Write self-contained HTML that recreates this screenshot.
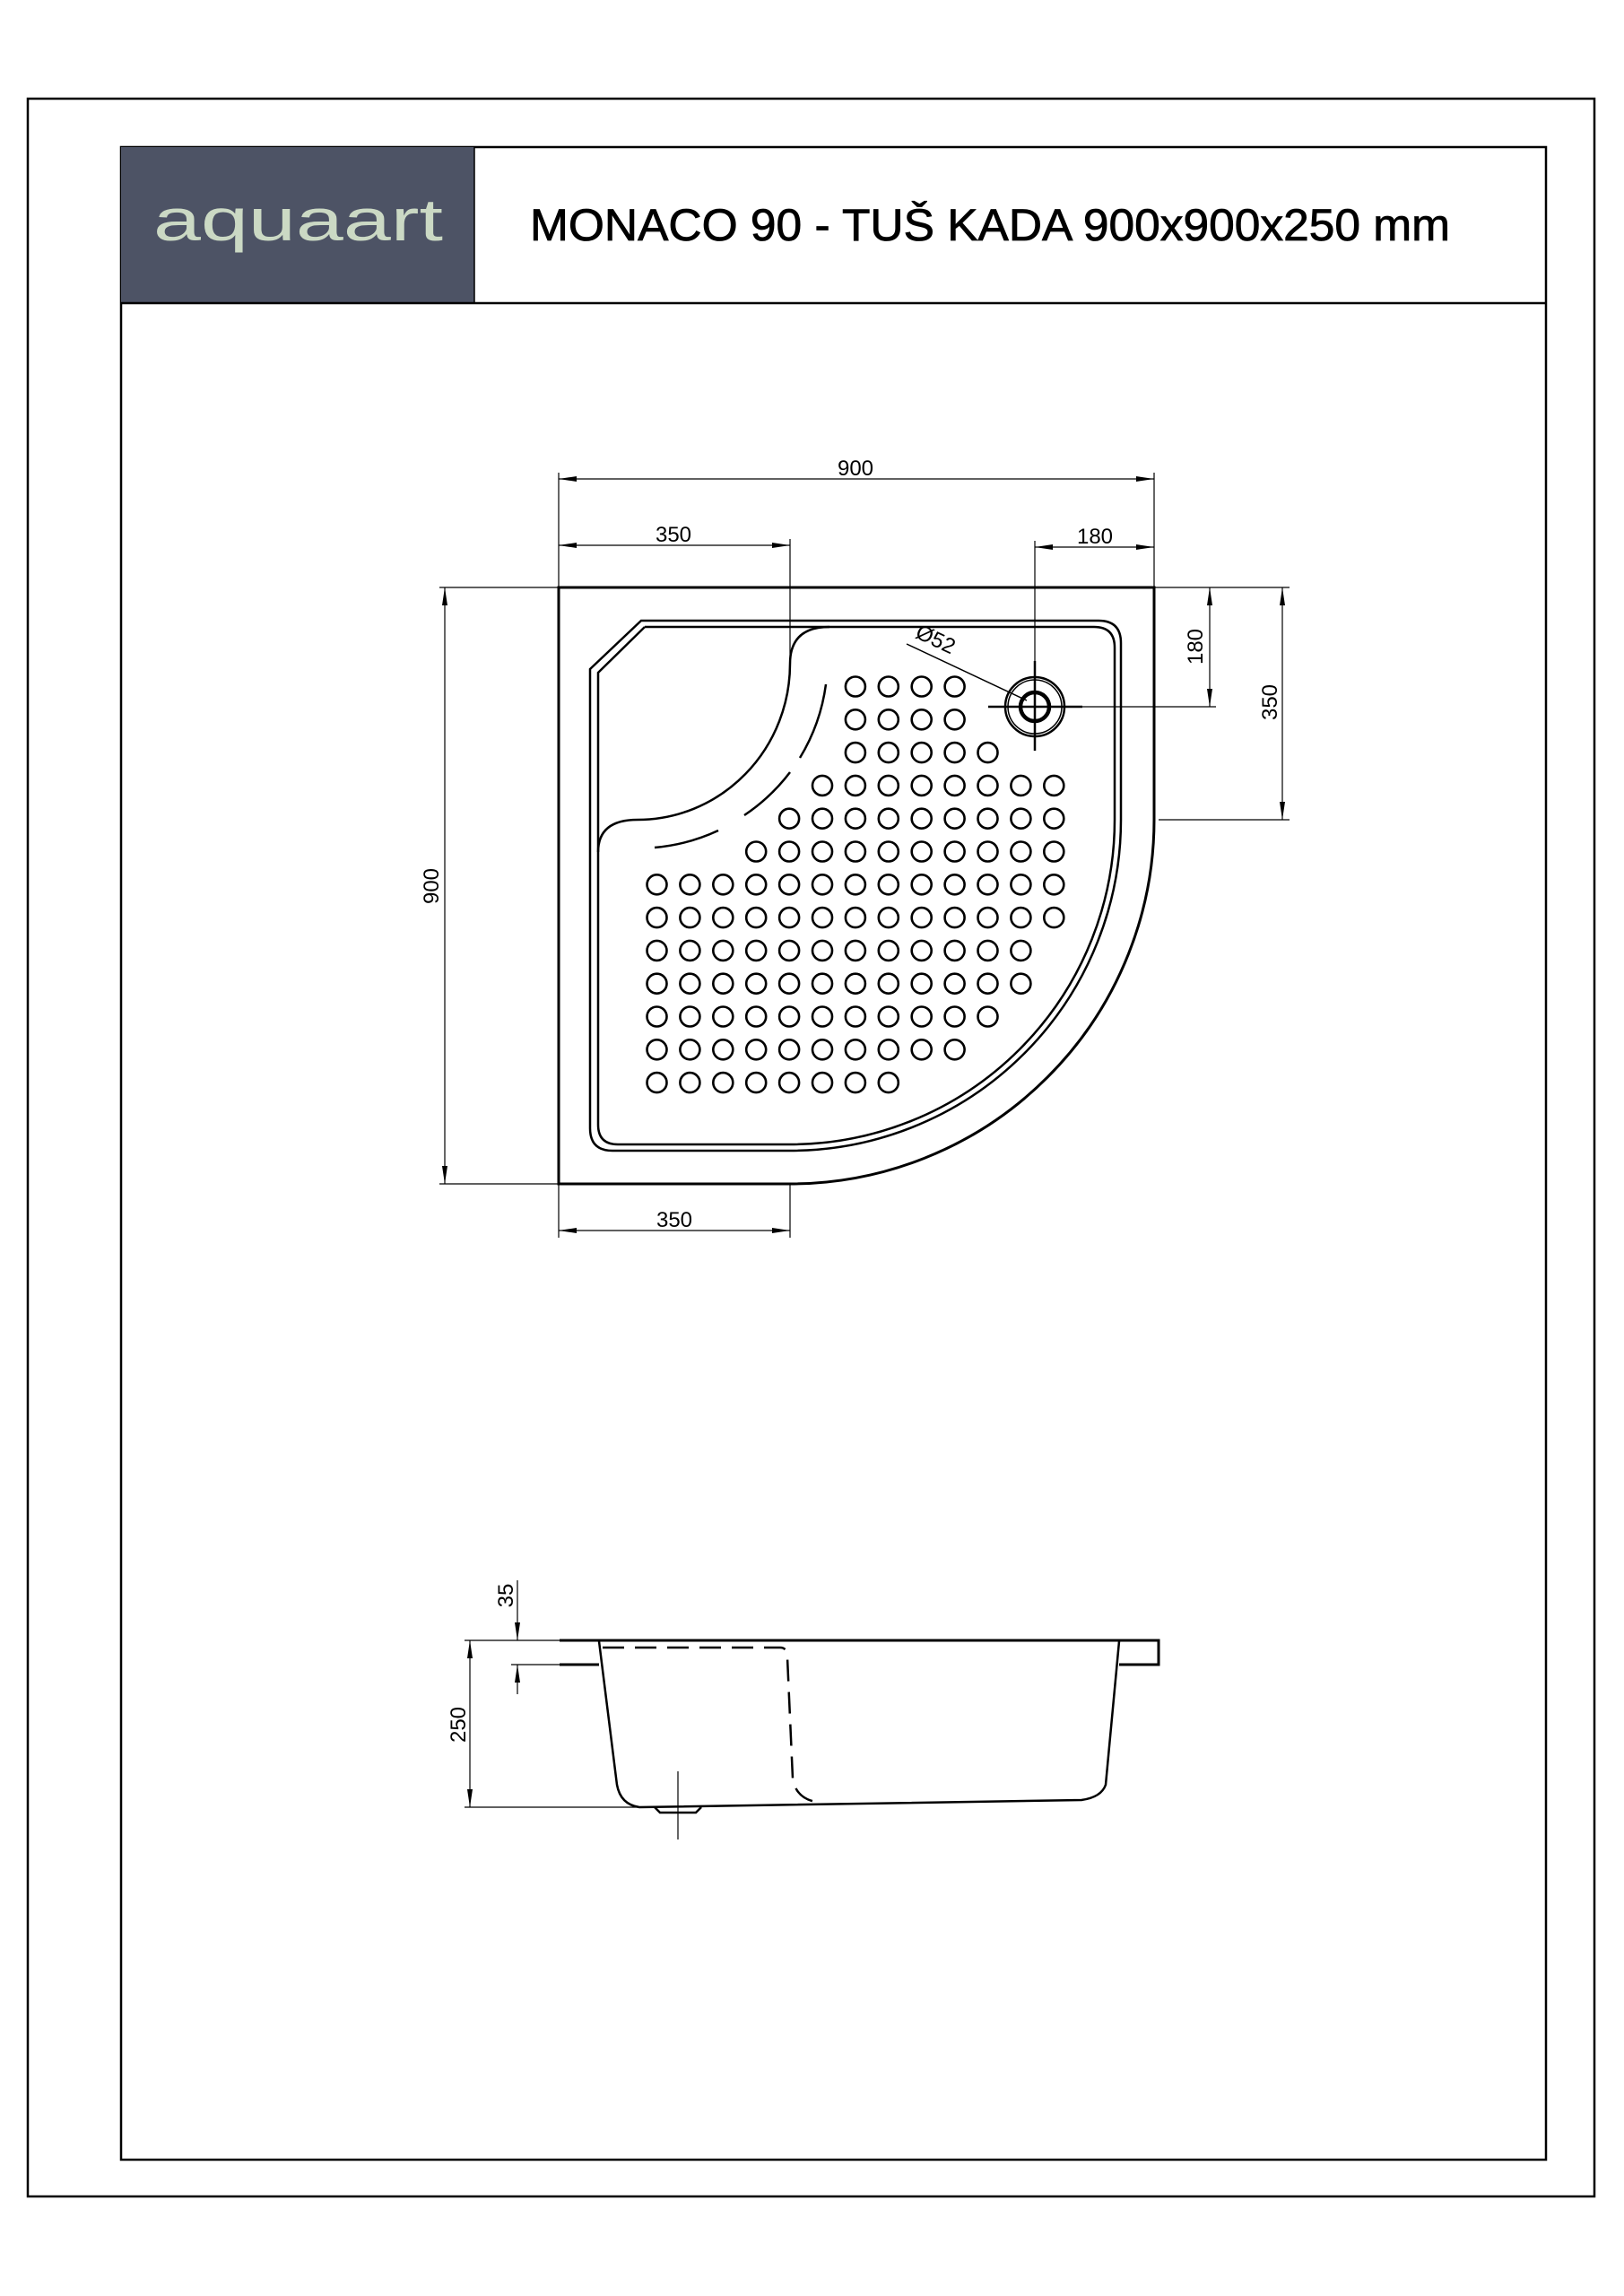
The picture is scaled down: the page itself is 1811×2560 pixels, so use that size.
<!DOCTYPE html>
<html><head><meta charset="utf-8"><style>
html,body{margin:0;padding:0;background:#fff;}
svg{display:block;}
text{font-family:"Liberation Sans",Arial,sans-serif;}
</style></head><body>
<svg width="1811" height="2560" viewBox="0 0 1811 2560" xmlns="http://www.w3.org/2000/svg">
<defs>
<marker id="a" viewBox="0 0 20 6" refX="20" refY="3" markerWidth="20" markerHeight="6" markerUnits="userSpaceOnUse" orient="auto-start-reverse"><path d="M0,0 L20,3 L0,6 Z" fill="#000"/></marker>
<circle id="h" r="11" fill="none" stroke="#000" stroke-width="2.6"/>
</defs>
<!-- frames -->
<rect x="31" y="110" width="1747" height="2339" fill="none" stroke="#000" stroke-width="2.5"/>
<rect x="135" y="164" width="1589" height="2244" fill="none" stroke="#000" stroke-width="2.5"/>
<rect x="135" y="164" width="394" height="174" fill="#4d5365"/>
<line x1="135" y1="338" x2="1724" y2="338" stroke="#000" stroke-width="2.5"/>
<line x1="529" y1="164" x2="529" y2="338" stroke="#000" stroke-width="1.5"/>
<text x="171" y="268" font-size="66" fill="#cbd9c4" textLength="323" lengthAdjust="spacingAndGlyphs">aquaart</text>
<text x="591" y="268" font-size="50" fill="#000" stroke="#000" stroke-width="0.8" textLength="1026" lengthAdjust="spacingAndGlyphs">MONACO 90 - TUŠ KADA 900x900x250 mm</text>

<g stroke="#000" fill="none">
<path d="M623 655 H1287 V914 A406 406 0 0 1 881 1320 H623 Z" stroke-width="3"/>
<path d="M715 692 H1225 Q1250 692 1250 717 V914 A369 369 0 0 1 881 1283 H683 Q658 1283 658 1258 V746 Z" stroke-width="2.5"/>
<path d="M719 699 H1220 Q1243 699 1243 722 V914 A362 362 0 0 1 881 1276 H689 Q667 1276 667 1254 V750 L719 699" stroke-width="2.5"/>
<path d="M925 699 Q881 699 881 740 A170 174 0 0 1 711 914 Q667 914 667 950" stroke-width="2.5"/>
<path d="M921 763 A212 212 0 0 1 892 845" stroke-width="2.5"/>
<path d="M881 861 A212 212 0 0 1 830 909" stroke-width="2.5"/>
<path d="M801 926 A212 212 0 0 1 730 945" stroke-width="2.5"/>

<circle cx="1154" cy="788" r="33" stroke-width="2.5"/>
<circle cx="1154" cy="788" r="30" stroke-width="1.5"/>
<circle cx="1154" cy="788" r="16" stroke-width="4.5"/>
<line x1="1102" y1="788" x2="1207" y2="788" stroke-width="2.5"/>
<line x1="1154" y1="737" x2="1154" y2="837" stroke-width="2.5"/>
<line x1="1207" y1="788" x2="1356" y2="788" stroke-width="1.2"/>
<line x1="1154" y1="603" x2="1154" y2="737" stroke-width="1.2"/>
<line x1="1011" y1="718" x2="1145" y2="781" stroke-width="1.5"/>

<g stroke-width="1.2">
<line x1="623" y1="527" x2="623" y2="655"/>
<line x1="1287" y1="527" x2="1287" y2="655"/>
<line x1="623" y1="534" x2="1287" y2="534" marker-start="url(#a)" marker-end="url(#a)"/>
<line x1="623" y1="608" x2="881" y2="608" marker-start="url(#a)" marker-end="url(#a)"/>
<line x1="881" y1="601" x2="881" y2="734"/>
<line x1="1154" y1="610" x2="1287" y2="610" marker-start="url(#a)" marker-end="url(#a)"/>
<line x1="1287" y1="655" x2="1438" y2="655"/>
<line x1="1349" y1="655" x2="1349" y2="788" marker-start="url(#a)" marker-end="url(#a)"/>
<line x1="1292" y1="914" x2="1438" y2="914"/>
<line x1="1430" y1="655" x2="1430" y2="914" marker-start="url(#a)" marker-end="url(#a)"/>
<line x1="490" y1="655" x2="623" y2="655"/>
<line x1="490" y1="1320" x2="623" y2="1320"/>
<line x1="496" y1="655" x2="496" y2="1320" marker-start="url(#a)" marker-end="url(#a)"/>
<line x1="623" y1="1320" x2="623" y2="1380"/>
<line x1="881" y1="1320" x2="881" y2="1380"/>
<line x1="623" y1="1372" x2="881" y2="1372" marker-start="url(#a)" marker-end="url(#a)"/>
</g>
</g>

<g font-size="24" fill="#000" text-anchor="middle">
<text x="954" y="530">900</text>
<text x="751" y="604">350</text>
<text x="1221" y="606">180</text>
<text x="752" y="1368">350</text>
<text transform="translate(1341,721) rotate(-90)">180</text>
<text transform="translate(1424,783) rotate(-90)">350</text>
<text transform="translate(489,988) rotate(-90)">900</text>
<text transform="translate(1040,720) rotate(25)">Ø52</text>
</g>

<g>
<g transform="translate(0,765.5)"><use href="#h" x="953.9"/><use href="#h" x="990.8"/><use href="#h" x="1027.7"/><use href="#h" x="1064.6"/></g>
<g transform="translate(0,802.3)"><use href="#h" x="953.9"/><use href="#h" x="990.8"/><use href="#h" x="1027.7"/><use href="#h" x="1064.6"/></g>
<g transform="translate(0,839.1)"><use href="#h" x="953.9"/><use href="#h" x="990.8"/><use href="#h" x="1027.7"/><use href="#h" x="1064.6"/><use href="#h" x="1101.5"/></g>
<g transform="translate(0,875.9)"><use href="#h" x="917"/><use href="#h" x="953.9"/><use href="#h" x="990.8"/><use href="#h" x="1027.7"/><use href="#h" x="1064.6"/><use href="#h" x="1101.5"/><use href="#h" x="1138.4"/><use href="#h" x="1175.3"/></g>
<g transform="translate(0,912.7)"><use href="#h" x="880.1"/><use href="#h" x="917"/><use href="#h" x="953.9"/><use href="#h" x="990.8"/><use href="#h" x="1027.7"/><use href="#h" x="1064.6"/><use href="#h" x="1101.5"/><use href="#h" x="1138.4"/><use href="#h" x="1175.3"/></g>
<g transform="translate(0,949.5)"><use href="#h" x="843.2"/><use href="#h" x="880.1"/><use href="#h" x="917"/><use href="#h" x="953.9"/><use href="#h" x="990.8"/><use href="#h" x="1027.7"/><use href="#h" x="1064.6"/><use href="#h" x="1101.5"/><use href="#h" x="1138.4"/><use href="#h" x="1175.3"/></g>
<g transform="translate(0,986.3)"><use href="#h" x="732.5"/><use href="#h" x="769.4"/><use href="#h" x="806.3"/><use href="#h" x="843.2"/><use href="#h" x="880.1"/><use href="#h" x="917"/><use href="#h" x="953.9"/><use href="#h" x="990.8"/><use href="#h" x="1027.7"/><use href="#h" x="1064.6"/><use href="#h" x="1101.5"/><use href="#h" x="1138.4"/><use href="#h" x="1175.3"/></g>
<g transform="translate(0,1023.1)"><use href="#h" x="732.5"/><use href="#h" x="769.4"/><use href="#h" x="806.3"/><use href="#h" x="843.2"/><use href="#h" x="880.1"/><use href="#h" x="917"/><use href="#h" x="953.9"/><use href="#h" x="990.8"/><use href="#h" x="1027.7"/><use href="#h" x="1064.6"/><use href="#h" x="1101.5"/><use href="#h" x="1138.4"/><use href="#h" x="1175.3"/></g>
<g transform="translate(0,1059.9)"><use href="#h" x="732.5"/><use href="#h" x="769.4"/><use href="#h" x="806.3"/><use href="#h" x="843.2"/><use href="#h" x="880.1"/><use href="#h" x="917"/><use href="#h" x="953.9"/><use href="#h" x="990.8"/><use href="#h" x="1027.7"/><use href="#h" x="1064.6"/><use href="#h" x="1101.5"/><use href="#h" x="1138.4"/></g>
<g transform="translate(0,1096.7)"><use href="#h" x="732.5"/><use href="#h" x="769.4"/><use href="#h" x="806.3"/><use href="#h" x="843.2"/><use href="#h" x="880.1"/><use href="#h" x="917"/><use href="#h" x="953.9"/><use href="#h" x="990.8"/><use href="#h" x="1027.7"/><use href="#h" x="1064.6"/><use href="#h" x="1101.5"/><use href="#h" x="1138.4"/></g>
<g transform="translate(0,1133.5)"><use href="#h" x="732.5"/><use href="#h" x="769.4"/><use href="#h" x="806.3"/><use href="#h" x="843.2"/><use href="#h" x="880.1"/><use href="#h" x="917"/><use href="#h" x="953.9"/><use href="#h" x="990.8"/><use href="#h" x="1027.7"/><use href="#h" x="1064.6"/><use href="#h" x="1101.5"/></g>
<g transform="translate(0,1170.3)"><use href="#h" x="732.5"/><use href="#h" x="769.4"/><use href="#h" x="806.3"/><use href="#h" x="843.2"/><use href="#h" x="880.1"/><use href="#h" x="917"/><use href="#h" x="953.9"/><use href="#h" x="990.8"/><use href="#h" x="1027.7"/><use href="#h" x="1064.6"/></g>
<g transform="translate(0,1207.1)"><use href="#h" x="732.5"/><use href="#h" x="769.4"/><use href="#h" x="806.3"/><use href="#h" x="843.2"/><use href="#h" x="880.1"/><use href="#h" x="917"/><use href="#h" x="953.9"/><use href="#h" x="990.8"/></g>
</g>

<g stroke="#000" fill="none">
<path d="M624 1829 H1292 V1856 H1248 M668 1856 H624 Z" stroke-width="3"/>
<line x1="624" y1="1829" x2="1292" y2="1829" stroke-width="3"/>
<path d="M668 1830 L688 1990 Q692 2012 713 2015 L1206 2007 Q1228 2004 1233 1990 L1248 1830" stroke-width="2.5"/>
<path d="M672 1837 H870 Q878 1837 878 1848 L884 1983 Q888 2008 917 2010" stroke-width="2.5" stroke-dasharray="24 12"/>
<path d="M730 2015 L736 2021 H776 L782 2015" stroke-width="2.5"/>
<line x1="756" y1="1975" x2="756" y2="2051" stroke-width="1.2"/>
<g stroke-width="1.2">
<line x1="518" y1="1829" x2="624" y2="1829"/>
<line x1="518" y1="2015" x2="713" y2="2015"/>
<line x1="524" y1="1829" x2="524" y2="2015" marker-start="url(#a)" marker-end="url(#a)"/>
<line x1="570" y1="1856" x2="624" y2="1856"/>
<line x1="577" y1="1762" x2="577" y2="1829" marker-end="url(#a)"/>
<line x1="577" y1="1889" x2="577" y2="1856" marker-end="url(#a)"/>
</g>
</g>
<g font-size="24" fill="#000" text-anchor="middle">
<text transform="translate(519,1923) rotate(-90)">250</text>
<text transform="translate(572,1779) rotate(-90)">35</text>
</g>
</svg>
</body></html>
